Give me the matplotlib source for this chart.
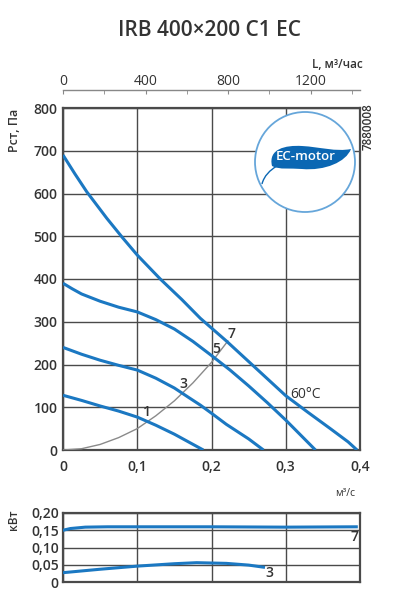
import numpy as np
import matplotlib
matplotlib.use("Agg")
import matplotlib.pyplot as plt
from matplotlib.patches import Circle, PathPatch
from matplotlib.path import Path

plt.rcParams['font.family'] = ['Open Sans', 'DejaVu Sans']

# pressure curves, x in m3/s, y in Pa
q7 = [0, 0.016, 0.032, 0.059, 0.08, 0.1, 0.131, 0.16, 0.185, 0.22, 0.25, 0.3, 0.33, 0.36, 0.384, 0.396]
p7 = [690, 646, 604, 542, 497, 456, 400, 352, 308, 255, 207, 127, 88, 50, 19, 0]
q5 = [0, 0.0125, 0.025, 0.05, 0.075, 0.1, 0.125, 0.15, 0.175, 0.2, 0.225, 0.25, 0.275, 0.3, 0.32, 0.34]
p5 = [390, 377, 365, 348, 334, 323, 305, 283, 254, 221, 187, 150, 111, 70, 35, 0]
q3 = [0, 0.025, 0.05, 0.075, 0.1, 0.125, 0.15, 0.17, 0.185, 0.2, 0.22, 0.235, 0.25, 0.26, 0.27]
p3 = [240, 224, 210, 198, 187, 168, 145, 122, 105, 86, 60, 43, 26, 13, 0]
q1 = [0, 0.025, 0.05, 0.075, 0.1, 0.125, 0.15, 0.17, 0.189]
p1 = [128, 116, 103, 91, 77, 58, 37, 18, 0]
# system curve (grey)
qs = [0, 0.025, 0.05, 0.075, 0.1, 0.125, 0.15, 0.175, 0.2, 0.222]
ps = [0, 3, 13, 29, 50, 80, 115, 157, 205, 255]

# power curves, kW
qw7 = [0, 0.01, 0.03, 0.06, 0.1, 0.2, 0.3, 0.395]
w7 = [0.150, 0.155, 0.159, 0.160, 0.160, 0.160, 0.159, 0.160]
qw3 = [0, 0.05, 0.1, 0.15, 0.18, 0.22, 0.25, 0.27]
w3 = [0.027, 0.037, 0.046, 0.053, 0.056, 0.054, 0.049, 0.043]

xticks = [0, 0.1, 0.2, 0.3, 0.4]
xlabels = ['0', '0,1', '0,2', '0,3', '0,4']
yticks = [0, 100, 200, 300, 400, 500, 600, 700, 800]
wticks = [0, 0.05, 0.10, 0.15, 0.20]
wlabels = ['0', '0,05', '0,10', '0,15', '0,20']
top_ticks = [0, 400, 800, 1200]

blue = '#1b78c2'
gridc = '#4a4a4a'
txt = '#333333'
W, H = 409, 600

fig = plt.figure(figsize=(W / 100, H / 100), dpi=100)
ax = fig.add_axes([63 / W, 1 - 450 / H, 297 / W, 342 / H])
ax2 = fig.add_axes([63 / W, 1 - 582 / H, 297 / W, 69 / H])

for a in (ax, ax2):
    a.set_xlim(0, 0.4)
    a.set_xticks(xticks)
    a.grid(True, color=gridc, lw=1.0)
    a.tick_params(length=0, labelsize=10, colors=txt, pad=4)
    for s in a.spines.values():
        s.set_color(gridc)
        s.set_linewidth(1.6)

ax.set_ylim(0, 800)
ax.set_yticks(yticks)
ax.set_xticklabels(xlabels, fontweight='semibold')
ax.set_yticklabels([str(v) for v in yticks], fontweight='semibold')
ax.tick_params(axis='x', pad=7)

ax.plot(qs, ps, color='#8a8a8a', lw=1.0, zorder=3)
for q, p in [(q7, p7), (q5, p5), (q3, p3), (q1, p1)]:
    ax.plot(q, p, color=blue, lw=2.2, zorder=4, solid_capstyle='butt', solid_joinstyle='round')

for s, xx, yy in [('1', 0.113, 90), ('3', 0.162, 155), ('5', 0.206, 237), ('7', 0.227, 272)]:
    ax.text(xx, yy, s, fontsize=10, color=txt, fontweight='semibold', ha='center', va='center', zorder=5)
ax.text(0.306, 130, '60°C', fontsize=10, color=txt, ha='left', va='center', zorder=5)

# top axis in m3/h
sec = ax.secondary_xaxis('top', functions=(lambda x: x * 3600, lambda x: x / 3600))
sec.set_xticks(top_ticks)
sec.set_xticklabels([str(v) for v in top_ticks], fontweight='semibold')
sec.set_xticks([200, 600, 1000, 1400], minor=True)
sec.spines['top'].set_position(('outward', 13))
sec.spines['top'].set_color('#888888')
sec.spines['top'].set_linewidth(1.0)
sec.tick_params(which='both', direction='in', length=3, color='#888888', labelsize=10, labelcolor=txt, pad=1)

ax2.set_ylim(0, 0.20)
ax2.set_yticks(wticks)
ax2.set_yticklabels(wlabels, fontweight='semibold')
ax2.set_xticklabels([])
ax2.tick_params(axis='y', pad=3)
ax2.plot(qw7, w7, color=blue, lw=2.2, zorder=4)
ax2.plot(qw3, w3, color=blue, lw=2.2, zorder=4)
ax2.text(0.393, 0.130, '7', fontsize=10, color=txt, fontweight='semibold', ha='center', va='center')
ax2.text(0.278, 0.027, '3', fontsize=10, color=txt, fontweight='semibold', ha='center', va='center')

fig.text(210 / W, 1 - 30 / H, 'IRB 400×200 C1 EC', fontsize=15, fontweight='semibold',
         color=txt, ha='center', va='center')
fig.text(363 / W, 1 - 64 / H, 'L, м³/час', fontsize=8.5, fontweight='semibold', color=txt,
         ha='right', va='center')
fig.text(14 / W, 1 - 130 / H, 'Pст, Па', fontsize=9, fontweight='semibold', color=txt,
         rotation=90, ha='center', va='center')
fig.text(14 / W, 1 - 520 / H, 'кВт', fontsize=8.5, fontweight='semibold', color=txt,
         rotation=90, ha='center', va='center')
fig.text(368 / W, 1 - 127 / H, '7880008', fontsize=8.5, fontweight='semibold', color=txt,
         rotation=90, ha='center', va='center')
fig.text(355 / W, 1 - 493 / H, 'м³/с', fontsize=7.5, color=txt, ha='right', va='center')

# EC-motor logo, drawn in figure pixel coordinates
ov = fig.add_axes([0, 0, 1, 1], zorder=10)
ov.set_xlim(0, W)
ov.set_ylim(H, 0)
ov.axis('off')
ov.patch.set_alpha(0)
ov.add_patch(Circle((305, 162), 50, facecolor='white', edgecolor='#66a6da', lw=1.3))
leaf = Path([(272, 166), (268, 149), (285, 145), (302, 146),
             (320, 147), (336, 152), (351, 149),
             (346, 162), (325, 171), (302, 169),
             (290, 168), (280, 170), (272, 166), (272, 166)],
            [Path.MOVETO, Path.CURVE4, Path.CURVE4, Path.CURVE4,
             Path.CURVE4, Path.CURVE4, Path.CURVE4,
             Path.CURVE4, Path.CURVE4, Path.CURVE4,
             Path.CURVE4, Path.CURVE4, Path.CURVE4, Path.CLOSEPOLY])
ov.add_patch(PathPatch(leaf, facecolor='#0b67b3', edgecolor='none'))
stem = Path([(277, 166), (270, 170), (264, 176), (262, 184)],
            [Path.MOVETO, Path.CURVE4, Path.CURVE4, Path.CURVE4])
ov.add_patch(PathPatch(stem, facecolor='none', edgecolor='#0b67b3', lw=1.0))
ov.text(306, 157, 'EC-motor', fontsize=9.5, color='white', fontweight='semibold',
        ha='center', va='center')

fig.savefig('out.png', dpi=100)
